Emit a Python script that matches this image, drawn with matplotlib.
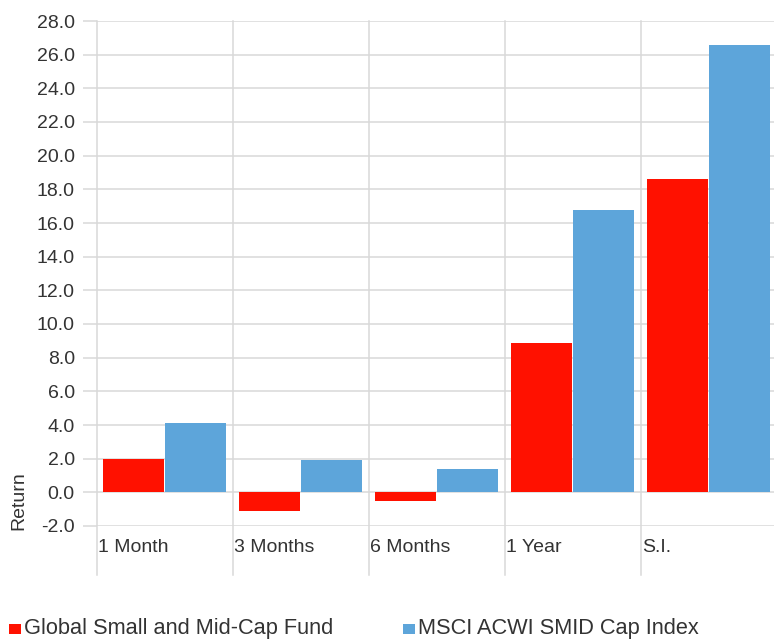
import matplotlib
matplotlib.use("Agg")
import matplotlib.pyplot as plt
import matplotlib.transforms as mtransforms
from matplotlib.patches import Rectangle
import numpy as np

# Chart data
periods = ["1 Month", "3 Months", "6 Months", "1 Year", "S.I."]
fund = [2.0, -1.1, -0.5, 8.9, 18.6]
benchmark = [4.1, 1.9, 1.4, 16.8, 26.6]
series_names = ["Global Small and Mid-Cap Fund", "MSCI ACWI SMID Cap Index"]
y_ticks = np.arange(-2, 29, 2)

RED = "#FF1100"
BLUE = "#5DA5DA"
GRID = "#D9D9D9"
TEXT = "#333333"

plt.rcParams["font.family"] = ["Liberation Sans", "DejaVu Sans"]

W, H = 774, 639
fig = plt.figure(figsize=(W / 100, H / 100), dpi=100)
ax = fig.add_axes([97 / W, 1 - 526 / H, 680 / W, 505 / H])

x = np.arange(len(periods))
ax.bar(x + 0.268, fund, width=0.45, color=RED, zorder=3)
ax.bar(x + 0.725, benchmark, width=0.45, color=BLUE, zorder=3)

ax.set_xlim(0, len(periods))
ax.set_ylim(-2, 28)
ax.set_yticks(y_ticks)
ax.set_yticklabels([f"{v:.1f}" for v in y_ticks])
ax.set_xticks([])
for s in ax.spines.values():
    s.set_visible(False)

ax.grid(axis="y", color=GRID, linewidth=1.1, zorder=0)
ax.tick_params(axis="y", length=10, width=1.1, color=GRID, pad=6,
               labelsize=14, labelcolor=TEXT)

# vertical separators run down through the category labels
for i in range(len(periods) + 1):
    ax.axvline(i, ymin=-0.097, ymax=1, color=GRID, linewidth=1.1,
               clip_on=False, zorder=0)

trans = mtransforms.blended_transform_factory(ax.transData, ax.transAxes)
for i, name in enumerate(periods):
    ax.text(i + 0.01, -0.043, name, transform=trans, ha="left", va="center",
            fontsize=14, color=TEXT)

fig.text(19 / W, 1 - 501 / H, "Return", rotation=90, ha="center", va="center",
         fontsize=14, color=TEXT)

# legend along the bottom edge
for (x0, tx), color, name in zip([(9, 24), (403, 418)], [RED, BLUE], series_names):
    fig.add_artist(Rectangle((x0 / W, 1 - 634 / H), 12 / W, 10 / H,
                             transform=fig.transFigure, color=color, lw=0))
    fig.text(tx / W, 1 - 634 / H, name, ha="left", va="baseline",
             fontsize=15.7, color=TEXT)

plt.savefig("out.png", dpi=100)
